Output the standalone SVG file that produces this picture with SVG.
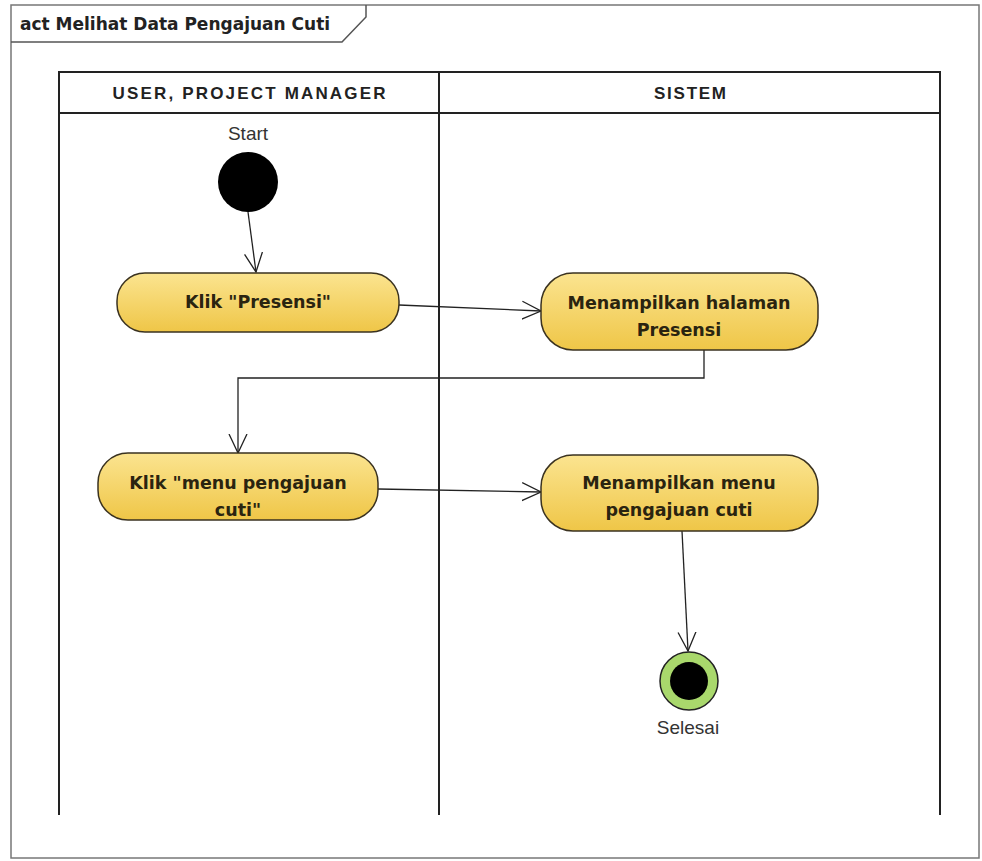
<svg xmlns="http://www.w3.org/2000/svg" width="982" height="861" viewBox="0 0 982 861">
<defs>
<linearGradient id="g" x1="0" y1="0" x2="0" y2="1">
<stop offset="0" stop-color="#fbe490"/>
<stop offset="1" stop-color="#efc647"/>
</linearGradient>
<marker id="a" viewBox="0 0 20 20" refX="19" refY="10" markerWidth="20" markerHeight="20" markerUnits="userSpaceOnUse" orient="auto">
<path d="M0,1 L19,10 L0,19" fill="none" stroke="#222" stroke-width="1.3"/>
</marker>
<style>
.frame{fill:#fff;stroke:#777;stroke-width:1.5}
.lane{fill:none;stroke:#222;stroke-width:2}
.act{fill:url(#g);stroke:#3a3220;stroke-width:1.5}
.t{font-family:"DejaVu Sans",sans-serif;font-weight:bold;font-size:17.5px;fill:#2a2410;text-anchor:middle}
.h{font-family:"Liberation Sans",Arial,sans-serif;font-weight:bold;font-size:17px;fill:#222;text-anchor:middle}
.l{font-family:"Liberation Sans",Arial,sans-serif;font-size:19px;fill:#333;text-anchor:middle}
.c{fill:none;stroke:#222;stroke-width:1.3}
</style>
</defs>
<rect width="982" height="861" fill="#fff"/>
<g id="frame">
<rect class="frame" x="11" y="5" width="968" height="853"/>
<path d="M11,42 H342 L366,17 V5" fill="none" stroke="#555" stroke-width="1.5"/>
<text x="20" y="30" font-family="DejaVu Sans,sans-serif" font-weight="bold" font-size="17" fill="#222">act Melihat Data Pengajuan Cuti</text>
</g>
<g id="lanes">
<path class="lane" d="M59,815 V72 H940 V815 M59,113 H940 M439,72 V815"/>
<text class="h" x="249" y="99" textLength="273">USER, PROJECT MANAGER</text>
<text class="h" x="690" y="99" textLength="72">SISTEM</text>
</g>
<g id="connectors">
<path class="c" d="M248,212 L256,272" marker-end="url(#a)"/>
<path class="c" d="M399,305 L541,311" marker-end="url(#a)"/>
<path class="c" d="M704,350 V378 H238 V453" marker-end="url(#a)"/>
<path class="c" d="M378,489 L541,492" marker-end="url(#a)"/>
<path class="c" d="M682,531 L688,651" marker-end="url(#a)"/>
</g>
<g id="start">
<circle cx="248" cy="182" r="30" fill="#000"/>
<text class="l" x="248" y="140">Start</text>
</g>
<g id="a1">
<rect class="act" x="117" y="273" width="282" height="59" rx="28"/>
<text class="t" x="258" y="308">Klik "Presensi"</text>
</g>
<g id="a2">
<rect class="act" x="541" y="273" width="277" height="77" rx="32"/>
<text class="t" x="679" y="309">Menampilkan halaman</text>
<text class="t" x="679" y="336">Presensi</text>
</g>
<g id="a3">
<rect class="act" x="98" y="453" width="280" height="67" rx="30"/>
<text class="t" x="238" y="489">Klik "menu pengajuan</text>
<text class="t" x="238" y="516">cuti"</text>
</g>
<g id="a4">
<rect class="act" x="541" y="455" width="277" height="76" rx="32"/>
<text class="t" x="679" y="489">Menampilkan menu</text>
<text class="t" x="679" y="516">pengajuan cuti</text>
</g>
<g id="end">
<circle cx="689" cy="681" r="29" fill="#a9d86c" stroke="#222" stroke-width="1.5"/>
<circle cx="689" cy="681" r="19" fill="#000"/>
<text class="l" x="688" y="734">Selesai</text>
</g>
</svg>
